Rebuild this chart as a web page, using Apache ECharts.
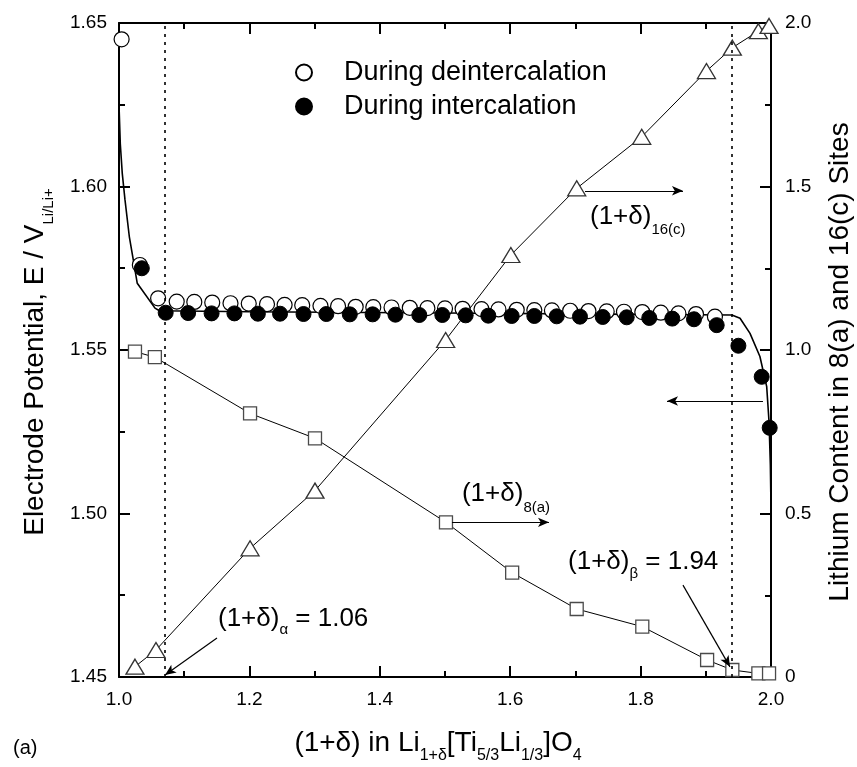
<!DOCTYPE html>
<html><head><meta charset="utf-8">
<script src="https://cdn.jsdelivr.net/npm/echarts@6/dist/echarts.min.js"></script>
<style>html,body{margin:0;padding:0;background:#fff}#c{width:857px;height:767px}</style>
</head><body><div id="c"></div>
<script>
const FONT = '"Liberation Sans", Arial, Helvetica, sans-serif';

// ---- data ----
const deintX = [1.004, 1.032, 1.060, 1.0885, 1.1155, 1.143, 1.171, 1.199, 1.227, 1.254, 1.281, 1.309, 1.336, 1.363, 1.390, 1.418,
  1.446, 1.473, 1.500, 1.527, 1.556, 1.582, 1.610, 1.637, 1.664, 1.692, 1.720, 1.748, 1.7745, 1.8026, 1.831, 1.858, 1.885, 1.914];
const deintE = [1.645, 1.576, 1.5658, 1.5648, 1.5647, 1.5645, 1.5643, 1.5642, 1.5640, 1.5638, 1.5637, 1.5635, 1.5634, 1.5632, 1.5631, 1.5630,
  1.5629, 1.5628, 1.5627, 1.5626, 1.5625, 1.5624, 1.5623, 1.5622, 1.5621, 1.5620, 1.5619, 1.5618, 1.5617, 1.5616, 1.5614, 1.5612, 1.5610, 1.5602];

const intX = [1.035, 1.0716, 1.106, 1.142, 1.177, 1.213, 1.247, 1.283, 1.318, 1.354, 1.389, 1.424,
  1.4606, 1.4959, 1.5317, 1.5664, 1.6023, 1.637, 1.6713, 1.707, 1.7419, 1.7787, 1.8133, 1.8486, 1.8819, 1.9167, 1.950, 1.9857, 1.998];
const intE = [1.575, 1.5614, 1.5613, 1.5612, 1.5612, 1.5611, 1.5611, 1.5610, 1.5610, 1.5609, 1.5609, 1.5608,
  1.5607, 1.5607, 1.5606, 1.5605, 1.5604, 1.5604, 1.5603, 1.5602, 1.5601, 1.5600, 1.5598, 1.5596, 1.5594, 1.5576, 1.5513, 1.5418, 1.5262];

const curveX = [1.0, 1.002, 1.005, 1.0092, 1.0158, 1.022, 1.028, 1.0552, 1.062, 1.2, 1.5, 1.8, 1.94, 1.9525, 1.9678, 1.983, 1.9934, 1.997, 1.999, 2.0];
const curveE = [1.625, 1.613, 1.604, 1.5959, 1.5847, 1.5775, 1.5704, 1.5628, 1.5620, 1.5617, 1.5613, 1.5609, 1.5607, 1.5597, 1.5551, 1.548, 1.5388, 1.528, 1.515, 1.502];

const site8aX = [1.0245, 1.055, 1.201, 1.3006, 1.5015, 1.603, 1.702, 1.8026, 1.902, 1.9407, 1.9806, 1.997];
const site8aL = [0.995, 0.978, 0.806, 0.730, 0.473, 0.319, 0.208, 0.154, 0.052, 0.0214, 0.011, 0.011];

const site16cX = [1.0245, 1.0567, 1.201, 1.3006, 1.501, 1.601, 1.702, 1.8017, 1.901, 1.9407, 1.9806, 1.997];
const site16cL = [0.0316, 0.0826, 0.3935, 0.570, 1.0306, 1.2905, 1.4945, 1.652, 1.853, 1.9245, 1.975, 1.991];

const boundaryX = [1.068, 1.94];   // (1+δ)α and (1+δ)β dotted lines

// arrows: [xStart, EStart, xEnd, EEnd]
const arrowsData = [
  [1.7147, 1.5987, 1.865, 1.5987],
  [1.5107, 1.4973, 1.6595, 1.4973],
  [1.865, 1.4781, 1.9371, 1.4531],
  [1.1503, 1.4619, 1.0706, 1.4506],
  [1.9877, 1.5344, 1.8405, 1.5344]
];

const xTickFmt = v => v.toFixed(1);
const yTickFmt = v => v.toFixed(2);
const y2TickFmt = v => (v === 0 ? '0' : v.toFixed(1));

// ---- chart ----
const zip = (a, b) => a.map((v, i) => [v, b[i]]);
const chart = echarts.init(document.getElementById('c'), null, {renderer: 'canvas'});

const axisCommon = {
  axisLine: {show: true, onZero: false, lineStyle: {color: '#000', width: 2}},
  axisTick: {show: true, inside: true, length: 11, lineStyle: {color: '#000', width: 2}},
  minorTick: {show: true, splitNumber: 2, length: 6, lineStyle: {color: '#000', width: 2}},
  splitLine: {show: false}, minorSplitLine: {show: false}
};
const lbl = (fmt, margin) => ({color: '#000', fontSize: 19, fontFamily: FONT, margin: margin, formatter: fmt});

chart.setOption({
  animation: false,
  backgroundColor: '#fff',
  grid: {left: 119, right: 86, top: 23, bottom: 90, containLabel: false},
  legend: {
    data: ['During deintercalation', 'During intercalation'],
    orient: 'vertical', left: 295, top: 59, padding: 0,
    itemWidth: 16, itemHeight: 16, itemGap: 7, icon: 'circle',
    textStyle: {fontSize: 27, fontFamily: FONT, color: '#000', padding: [0, 0, 0, 27]},
    selectedMode: false
  },
  xAxis: [
    Object.assign({type: 'value', min: 1, max: 2, interval: 0.2, position: 'bottom',
      axisLabel: lbl(xTickFmt, 13)}, axisCommon),
    Object.assign({type: 'value', min: 1, max: 2, interval: 0.2, position: 'top',
      axisLabel: {show: false}}, axisCommon)
  ],
  yAxis: [
    Object.assign({type: 'value', min: 1.45, max: 1.65, interval: 0.05, position: 'left',
      axisLabel: lbl(yTickFmt, 12)}, axisCommon),
    Object.assign({type: 'value', min: 0, max: 2, interval: 0.5, position: 'right',
      axisLabel: lbl(y2TickFmt, 14)}, axisCommon)
  ],
  series: [
    {
      name: 'E curve', type: 'line', xAxisIndex: 0, yAxisIndex: 0, z: 2,
      data: zip(curveX, curveE), showSymbol: false, symbol: 'none',
      lineStyle: {color: '#000', width: 1.6},
      markLine: {
        silent: true, animation: false, symbol: ['none', 'arrow'], symbolSize: [0, 10],
        label: {show: false}, lineStyle: {color: '#000', width: 1.2, type: 'solid'},
        data: arrowsData.map(a => [
          {coord: [a[0], a[1]], symbol: 'none'},
          {coord: [a[2], a[3]], symbol: 'arrow', symbolSize: [7, 11]}
        ])
      }
    },
    {
      name: '8(a)', type: 'line', xAxisIndex: 0, yAxisIndex: 1, z: 3,
      data: zip(site8aX, site8aL), symbol: 'rect', symbolSize: 13, showAllSymbol: true,
      lineStyle: {color: '#000', width: 1},
      itemStyle: {color: '#fff', borderColor: '#4a4a4a', borderWidth: 1.3, opacity: 1}
    },
    {
      name: '16(c)', type: 'line', xAxisIndex: 0, yAxisIndex: 1, z: 3,
      data: zip(site16cX, site16cL), symbol: 'triangle', symbolSize: [18, 15], showAllSymbol: true,
      lineStyle: {color: '#000', width: 1},
      itemStyle: {color: '#fff', borderColor: '#333', borderWidth: 1.3, opacity: 1}
    },
    {
      name: 'During deintercalation', type: 'scatter', xAxisIndex: 0, yAxisIndex: 0, z: 4,
      data: zip(deintX, deintE), symbol: 'circle', symbolSize: 15,
      itemStyle: {color: '#fff', borderColor: '#000', borderWidth: 1.2, opacity: 1},
      markLine: {
        silent: true, animation: false, symbol: ['none', 'none'], label: {show: false},
        lineStyle: {color: '#000', width: 1.6, type: [3, 5]},
        data: boundaryX.map(v => ({xAxis: v}))
      }
    },
    {
      name: 'During intercalation', type: 'scatter', xAxisIndex: 0, yAxisIndex: 0, z: 5,
      data: zip(intX, intE), symbol: 'circle', symbolSize: 15,
      itemStyle: {color: '#000', borderColor: '#000', borderWidth: 1, opacity: 1}
    }
  ]
});

// ---- text with subscripts (graphic), anchored through the axes ----
const ctx = document.createElement('canvas').getContext('2d');
const tw = (t, s) => { ctx.font = s + 'px ' + FONT; return ctx.measureText(t).width; };
function textGroup(parts, gx, gy, rot, center) {
  const total = parts.reduce((a, p) => a + tw(p[0], p[1]), 0);
  let cx = center ? -total / 2 : 0;
  const children = parts.map(p => {
    const el = {type: 'text', x: cx, y: p[2], silent: true,
      style: {text: p[0], font: p[1] + 'px ' + FONT, fill: '#000',
        textAlign: 'left', textVerticalAlign: 'middle', align: 'left', verticalAlign: 'middle'}};
    cx += tw(p[0], p[1]);
    return el;
  });
  return {type: 'group', x: gx, y: gy, rotation: rot || 0, children: children, silent: true};
}

const annotations = [
  {at: [1.7224, 1.5907], parts: [['(1+δ)', 26, 0], ['16(c)', 15, 13]]},
  {at: [1.526, 1.506], parts: [['(1+δ)', 26, 0], ['8(a)', 15, 14]]},
  {at: [1.6887, 1.4852], parts: [['(1+δ)', 26, 0], ['β', 15, 12], [' = 1.94', 26, 0]]},
  {at: [1.1518, 1.4677], parts: [['(1+δ)', 26, 0], ['α', 15, 11], [' = 1.06', 26, 0]]}
];

const graphics = annotations.map(a => {
  const p = chart.convertToPixel({xAxisIndex: 0, yAxisIndex: 0}, a.at);
  return textGroup(a.parts, p[0], p[1], 0, false);
});

// axis titles
graphics.push(textGroup([['(1+δ) in Li', 28, 0], ['1+δ', 16, 13], ['[Ti', 28, 0], ['5/3', 16, 13],
  ['Li', 28, 0], ['1/3', 16, 13], [']O', 28, 0], ['4', 16, 13]], 438, 743, 0, true));
graphics.push(textGroup([['Electrode Potential, E / V', 28, 0], ['Li/Li+', 15, 14]], 35, 362, Math.PI / 2, true));
graphics.push(textGroup([['Lithium Content in 8(a) and 16(c) Sites', 28, 0]], 840, 362, Math.PI / 2, true));
graphics.push(textGroup([['(a)', 20, 0]], 13, 748, 0, false));

chart.setOption({graphic: graphics});
</script>
</body></html>
